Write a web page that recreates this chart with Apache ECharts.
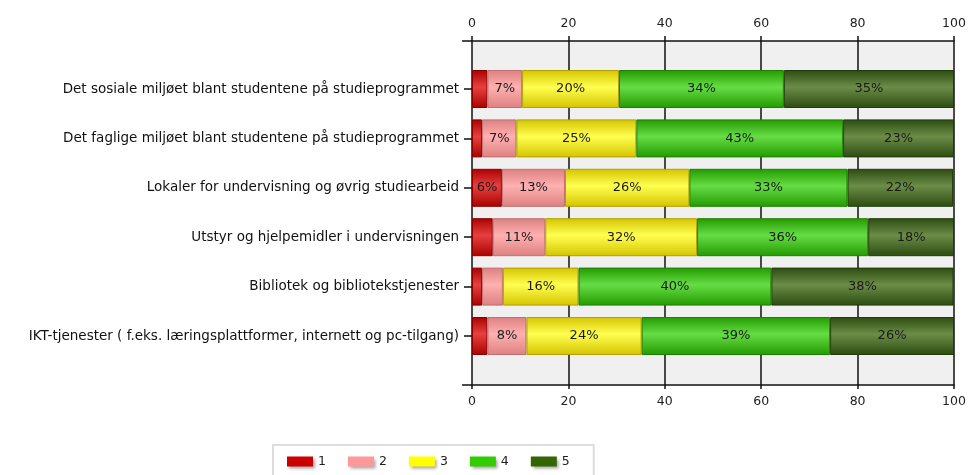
<!DOCTYPE html>
<html>
<head>
<meta charset="utf-8">
<script src="https://cdn.jsdelivr.net/npm/echarts@6/dist/echarts.min.js"></script>
<style>html,body{margin:0;padding:0;background:#fff;}#c{width:970px;height:475px;}</style>
</head>
<body>
<div id="c"></div>
<script>
var categories = [
  'Det sosiale miljøet blant studentene på studieprogrammet',
  'Det faglige miljøet blant studentene på studieprogrammet',
  'Lokaler for undervisning og øvrig studiearbeid',
  'Utstyr og hjelpemidler i undervisningen',
  'Bibliotek og bibliotekstjenester',
  'IKT-tjenester ( f.eks. læringsplattformer, internett og pc-tilgang)'
];
var seriesNames = ['1', '2', '3', '4', '5'];
var s1 = [3.2, 2.1, 6.2, 4.3, 2.1, 3.2];
var s2 = [7.2, 7.1, 13.1, 10.9, 4.3, 8.1];
var s3 = [20.1, 24.9, 25.8, 31.5, 15.7, 23.9];
var s4 = [34.2, 42.9, 32.8, 35.5, 40.0, 39.1];
var s5 = [35.3, 23.0, 21.9, 17.8, 37.8, 25.7];
var xTicks = [0, 20, 40, 60, 80, 100];

var baseColors = ['#cc0000', '#ff9999', '#ffff00', '#33cc00', '#336600'];
var edgeColors = ['#aa0000', '#dd8080', '#d4c400', '#229a00', '#2c4c10'];
var lightColors = ['#e84040', '#ffb0b0', '#ffff50', '#66dd44', '#6c8c48'];
var borderColors = ['#8a0000', '#c07070', '#b0a000', '#1e8000', '#203c08'];
var allData = [s1, s2, s3, s4, s5];

var font = 'DejaVu Sans';
var chart = echarts.init(document.getElementById('c'));

var series = allData.map(function (d, i) {
  return {
    name: seriesNames[i],
    type: 'bar',
    stack: 'total',
    xAxisIndex: 2,
    yAxisIndex: 1,
    barWidth: 38,
    data: d,
    itemStyle: {
      color: new echarts.graphic.LinearGradient(0, 0, 0, 1, [
        { offset: 0, color: edgeColors[i] },
        { offset: 0.45, color: lightColors[i] },
        { offset: 1, color: edgeColors[i] }
      ]),
      borderColor: borderColors[i],
      borderWidth: 1
    },
    label: {
      show: true,
      position: 'inside',
      color: '#1a1a1a',
      fontSize: 13,
      fontFamily: font,
      formatter: function (p) { return p.value >= 5 ? Math.round(p.value) + '%' : ''; }
    }
  };
});

var option = {
  backgroundColor: '#fff',
  animation: false,
  grid: [
    { left: 472, right: 16, top: 41, bottom: 90, show: true, backgroundColor: '#f0f0f0', borderWidth: 0 },
    { left: 472, right: 16, top: 64.3, bottom: 114.3 }
  ],
  xAxis: [
    {
      gridIndex: 0, type: 'value', position: 'bottom', min: xTicks[0], max: xTicks[xTicks.length - 1], interval: 20,
      axisLine: { show: true, lineStyle: { color: '#111', width: 1.5 } },
      axisTick: { show: true, length: 4, lineStyle: { color: '#111', width: 1.5 } },
      axisLabel: { color: '#222', fontSize: 12.5, fontFamily: font, margin: 10 },
      splitLine: { show: true, lineStyle: { color: '#111', width: 1.5 } }
    },
    {
      gridIndex: 0, type: 'value', position: 'top', min: xTicks[0], max: xTicks[xTicks.length - 1], interval: 20,
      axisLine: { show: true, lineStyle: { color: '#111', width: 1.5 } },
      axisTick: { show: true, length: 5, lineStyle: { color: '#111', width: 1.5 } },
      axisLabel: { color: '#222', fontSize: 12.5, fontFamily: font, margin: 11 },
      splitLine: { show: false }
    },
    {
      gridIndex: 1, type: 'value', min: 0, max: 100, show: false
    }
  ],
  yAxis: [
    {
      gridIndex: 0, type: 'value', min: 0, max: 1, interval: 1,
      axisLine: { show: false },
      axisTick: { show: true, length: 10, lineStyle: { color: '#111', width: 1.5 } },
      axisLabel: { show: false },
      splitLine: { show: false }
    },
    {
      gridIndex: 1, type: 'category', data: categories, inverse: true,
      axisLine: { show: false },
      axisTick: { show: true, alignWithLabel: true, length: 8, lineStyle: { color: '#111', width: 1.5 } },
      axisLabel: { color: '#111', fontSize: 13.5, fontFamily: font, margin: 13 },
      splitLine: { show: false }
    }
  ],
  legend: {
    left: 273, top: 445,
    padding: [10, 24, 10, 14],
    borderColor: '#ddd', borderWidth: 2,
    itemWidth: 26, itemHeight: 10, itemGap: 22,
    textStyle: { color: '#222', fontSize: 12.5, fontFamily: font },
    data: seriesNames.map(function (n, i) {
      return { name: n, icon: 'rect', itemStyle: { color: baseColors[i], borderWidth: 0, shadowBlur: 3, shadowColor: 'rgba(0,0,0,0.35)', shadowOffsetX: 2, shadowOffsetY: 2 } };
    })
  },
  series: series
};
chart.setOption(option);
</script>
</body>
</html>
